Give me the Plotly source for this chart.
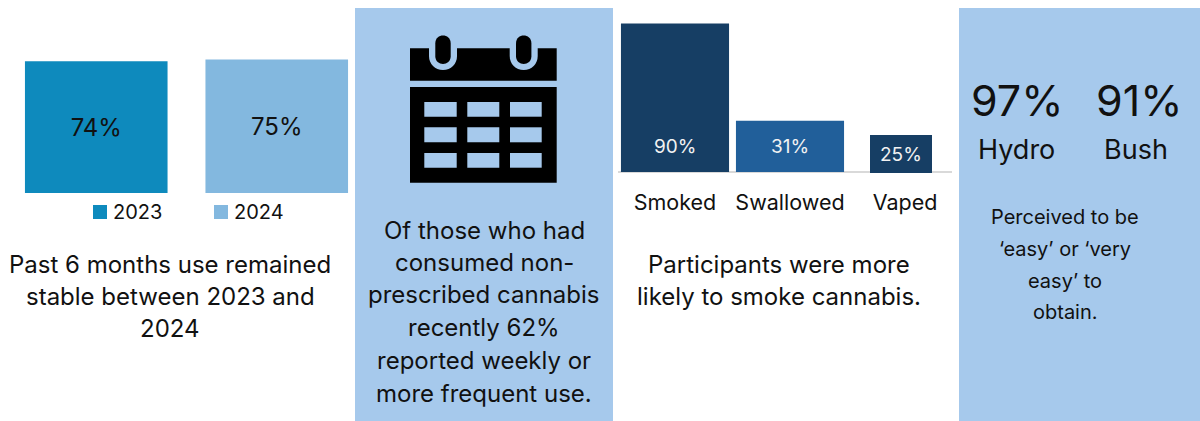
import plotly.graph_objects as go

W, H = 1200, 421
FONT = "Inter"
INK = "#111111"

years = ["2023", "2024"]
use_values = [74, 75]
use_colors = ["#0E8ABD", "#83B8DF"]

methods = ["Smoked", "Swallowed", "Vaped"]
method_values = [90, 31, 25]
method_colors = ["#163E64", "#215F9A", "#163E64"]

obtain_labels = ["Hydro", "Bush"]
obtain_values = [97, 91]

caption_use = ["Past 6 months use remained", "stable between 2023 and", "2024"]
caption_freq = ["Of those who had", "consumed non-", "prescribed cannabis",
                "recently 62%", "reported weekly or", "more frequent use."]
caption_method = ["Participants were more", "likely to smoke cannabis."]
caption_obtain = ["Perceived to be", "‘easy’ or ‘very", "easy’ to", "obtain."]

PANEL = "#A6C9EC"


def dx(a, b):
    return [a / W, b / W]


def dy(top, bottom):
    return [1 - bottom / H, 1 - top / H]


fig = go.Figure()

# Left chart: past 6 months use
for yr, v, c in zip(years, use_values, use_colors):
    fig.add_trace(go.Bar(
        x=[yr], y=[v], name=yr, width=0.79, marker=dict(color=c, line=dict(width=0)),
        text=[f"{v}%"], textposition="inside", insidetextanchor="middle", textangle=0,
        textfont=dict(family=FONT, size=24, color=INK), xaxis="x", yaxis="y",
        hoverinfo="skip", showlegend=False))

# Middle chart: method of use; the vaped bar has its own scale
fig.add_trace(go.Bar(
    x=methods[:2], y=method_values[:2], width=0.94,
    marker=dict(color=method_colors[:2], line=dict(width=0)),
    xaxis="x2", yaxis="y2", hoverinfo="skip", showlegend=False))
fig.add_trace(go.Bar(
    x=methods[2:], y=method_values[2:], width=62 / 115, offset=-35 / 115,
    marker=dict(color=method_colors[2], line=dict(width=0)),
    xaxis="x2", yaxis="y3", hoverinfo="skip", showlegend=False))

# Pixel-scale overlay for panels, icon and free text
fig.add_trace(go.Scatter(x=[0, W], y=[0, H], mode="none", xaxis="x4", yaxis="y4",
                         hoverinfo="skip", showlegend=False))

shapes = []


def rect(x0, y0, x1, y1, color, layer="above"):
    shapes.append(dict(type="rect", xref="x4", yref="y4", x0=x0, y0=y0, x1=x1, y1=y1,
                       fillcolor=color, line=dict(width=0), layer=layer))


rect(355, 8, 613, 421, PANEL, "below")
rect(959, 8, 1200, 421, PANEL, "below")

# Calendar icon
rect(410, 48.3, 556.7, 80.7, "#000000")
rect(410, 87, 556.7, 182.7, "#000000")
for cx0, cx1 in [(424.3, 456.7), (467.3, 499.3), (510, 541.7)]:
    for cy0, cy1 in [(102, 116.7), (127.3, 142.3), (153, 167.7)]:
        rect(cx0, cy0, cx1, cy1, PANEL)
for c in (443, 523.7):
    shapes.append(dict(type="path", xref="x4", yref="y4", layer="above",
                       path=f"M{c-14},48 L{c-14},56 C{c-14},64 {c-8},70 {c},70 "
                            f"C{c+8},70 {c+14},64 {c+14},56 L{c+14},48 Z",
                       fillcolor=PANEL, line=dict(width=0)))
    shapes.append(dict(type="path", xref="x4", yref="y4", layer="above",
                       path=f"M{c-7.7},43.4 C{c-7.7},33 {c+7.7},33 {c+7.7},43.4 "
                            f"L{c+7.7},56.3 C{c+7.7},66.5 {c-7.7},66.5 {c-7.7},56.3 Z",
                       fillcolor="#000000", line=dict(width=0)))

ann = []


def text(x, y, s, size=24, color=INK, anchor="center"):
    ann.append(dict(xref="x4", yref="y4", x=x, y=y, text=s, showarrow=False,
                    xanchor=anchor, yanchor="middle",
                    font=dict(family=FONT, size=size, color=color)))


for s, y in zip(caption_use, (264, 296, 328)):
    text(170, y, s)
for s, y in zip(caption_freq, (230, 262, 294, 327, 360, 393)):
    text(484, y, s)
for s, y in zip(caption_method, (264, 296)):
    text(779, y, s)
for s, y in zip(caption_obtain, (217, 249, 281, 312)):
    text(1065, y, s, size=20)

# Legend for the left chart
for yr, c, x0 in zip(years, use_colors, (93, 214)):
    rect(x0, 205, x0 + 14, 219, c)
    text(x0 + 18, 212, yr, size=20, anchor="left")

for v, x, y in zip(method_values, (675, 790, 901), (146, 146, 154)):
    text(x, y, f"{v}%", size=19, color="#F2F2F2")
for v, lab, x, xl in zip(obtain_values, obtain_labels, (1017, 1139), (1016, 1136)):
    text(x, 100, f"{v}%", size=43)
    text(xl, 149, lab, size=27)

hidden = dict(visible=False, fixedrange=True)
fig.update_layout(
    width=W, height=H, margin=dict(l=0, r=0, t=0, b=0),
    paper_bgcolor="#FFFFFF", plot_bgcolor="rgba(0,0,0,0)",
    barmode="overlay", shapes=shapes, annotations=ann, showlegend=False,
    font=dict(family=FONT, color=INK),
    xaxis=dict(domain=dx(6, 367), range=[-0.5, 1.5], type="category", visible=False, fixedrange=True),
    yaxis=dict(domain=dy(15, 193), range=[0, 100], **hidden),
    xaxis2=dict(domain=dx(618, 952), range=[-57 / 115, 277 / 115], type="category", fixedrange=True,
                categoryorder="array", categoryarray=methods,
                showline=False, showgrid=False, zeroline=False, ticks="", ticklabelstandoff=15,
                tickfont=dict(family=FONT, size=21.5, color=INK), anchor="y2"),
    yaxis2=dict(domain=dy(7, 172), range=[0, 100], showgrid=False, zeroline=True, zerolinecolor="#D9D9D9",
                zerolinewidth=2, showticklabels=False, ticks="", showline=False, fixedrange=True, anchor="x2"),
    yaxis3=dict(domain=dy(135, 173), range=[0, 25], anchor="x2", **hidden),
    xaxis4=dict(domain=[0, 1], range=[0, W], anchor="y4", **hidden),
    yaxis4=dict(domain=[0, 1], range=[H, 0], anchor="x4", **hidden),
)

fig.write_html("out.html", post_script="document.body.style.margin='0';", config={"displayModeBar": False})
